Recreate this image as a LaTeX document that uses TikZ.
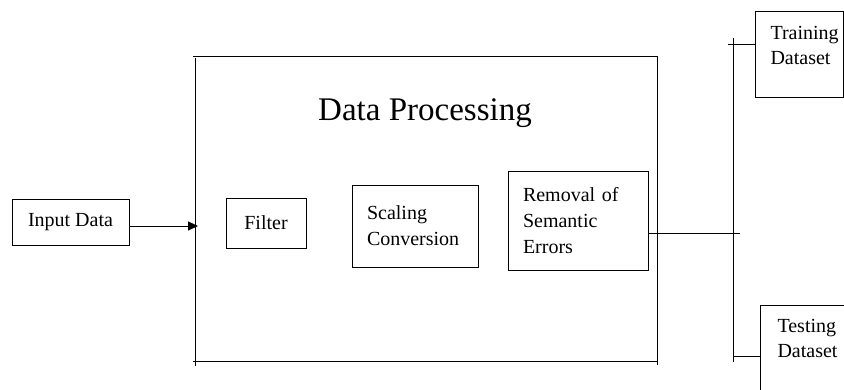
\documentclass[tikz,border=0pt]{standalone}
\usepackage{fontspec}
\setmainfont{Liberation Serif}
\usetikzlibrary{arrows.meta}
\tikzset{
  box/.style={draw,inner sep=0pt,align=left,font=\fontsize{20}{26}\selectfont},
  boxtext/.style={inner sep=0pt,anchor=north west,align=left,font=\fontsize{20}{25}\selectfont},
  flow/.style={-{Triangle[length=10pt,width=9pt]}}
}
\begin{document}
\begin{tikzpicture}[x=1pt,y=-1pt,line width=1pt]
\useasboundingbox (0,0) rectangle (844,389);
\clip (0,0) rectangle (844,389);
% processing frame (four loose strokes)
\draw (193,56)--(657,56);
\draw (195,58)--(195,366);
\draw (193,361)--(658,361);
\draw (657,56)--(657,365);
\node[font=\fontsize{33}{40}\selectfont] (title) at (425,113) {Data Processing};
% stages
\node[box,minimum width=117,minimum height=46] (input) at (70.5,222) {Input Data};
\node[box,minimum width=80,minimum height=50] (filter) at (266,223) {Filter};
\node[box,minimum width=126,minimum height=82,text width=96] (scaling) at (415,226) {Scaling\\Conversion};
\node[box,minimum width=140,minimum height=99,text width=110] (removal) at (578,220.5) {Removal of\\Semantic\\Errors};
% output sets
\node[box,minimum width=88,minimum height=86] (train) at (799,54) {};
\node[boxtext] (train text) at (770,26) {Training\\Dataset};
\node[box,minimum width=86,minimum height=90] (test) at (803,350) {};
\node[boxtext] (test text) at (777,319) {Testing\\Dataset};
% connectors
\coordinate (in port) at (198,226);
\coordinate (bus top) at (733,38);
\coordinate (bus bot) at (733,362);
\coordinate (bus tap) at (740,233);
\coordinate (train tick) at (728,44);
\coordinate (test tick) at (733,356);
\draw[flow] ([yshift=-4pt]input.east) -- (in port);
\draw ([yshift=-12.5pt]removal.east) -- (bus tap);
\draw (bus top) -- (bus bot);
\draw (train tick) -- ([yshift=10pt]train.west);
\draw (test tick) -- ([yshift=-6pt]test.west);
\end{tikzpicture}
\end{document}
